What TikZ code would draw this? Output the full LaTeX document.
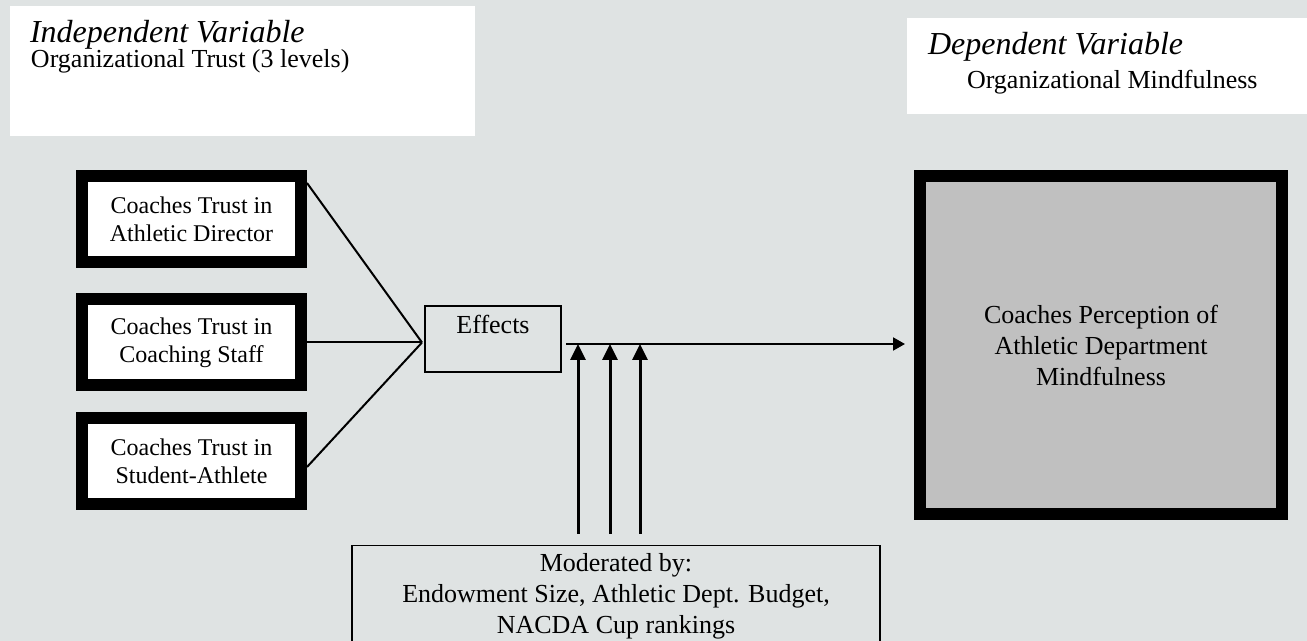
\documentclass[tikz,border=0pt]{standalone}
\usepackage{fontspec}
\setmainfont{Liberation Serif}
\usetikzlibrary{arrows.meta}
\definecolor{bggray}{RGB}{223,227,227}
\definecolor{boxgray}{RGB}{192,192,192}

\begin{document}
\begin{tikzpicture}[x=0.5pt,y=-0.5pt,line width=1pt,
      pfeil/.style={-{Triangle[length=6pt,width=6.5pt]}, shorten >=4.5pt},
      modpfeil/.style={line width=1.5pt, -{Triangle[length=8pt,width=7.5pt]}, shorten <=5.5pt},
      trustbox/.style={draw,line width=6pt,fill=white,minimum width=109.5pt,minimum height=43pt,
        align=center,font=\fontsize{12}{14}\selectfont},
      thinbox/.style={draw,line width=0.75pt,align=center,font=\fontsize{13}{15.5}\selectfont},
      hdrbox/.style={fill=white,inner sep=0pt,anchor=north west},
      hdrtitle/.style={anchor=base west,inner sep=0pt,font=\fontsize{16}{19}\selectfont\itshape},
      hdrtext/.style={anchor=base west,inner sep=0pt,font=\fontsize{13}{15.5}\selectfont}]
    \fill[bggray] (0,0) rectangle (1307,641);
    \useasboundingbox (0,0) rectangle (1307,641);
    % variable headers
    \node[hdrbox,minimum width=232.5pt,minimum height=65pt] (ivbox) at (9,5) {};
    \node[hdrtitle] (ivtitle) at (29,43) {Independent Variable};
    \node[hdrtext] (ivtext) at (30,68) {Organizational Trust (3 levels)};
    \node[hdrbox,minimum width=201pt,minimum height=48pt] (dvbox) at (906,17) {};
    \node[hdrtitle] (dvtitle) at (927,55) {Dependent Variable};
    \node[hdrtext] (dvtext) at (966,89) {Organizational Mindfulness};
    % trust boxes
    \node[trustbox] (box1) at (191.5,219) {Coaches Trust in\\Athletic Director};
    \node[trustbox] (box2) at (191.5,342.5) {Coaches Trust in\\Coaching Staff};
    \node[trustbox] (box3) at (191.5,461.5) {Coaches Trust in\\Student-Athlete};
    \coordinate (meet) at (422,342.5);
    \draw ([yshift=18pt]box1.east) -- (meet);
    \draw (box2.east) -- (meet);
    \draw ([yshift=-2.75pt]box3.east) -- (meet);
    \node[thinbox,minimum width=68pt,text height=12pt,text depth=17pt,inner ysep=2pt] (effects) at (493,339) {Effects};
    % outcome
    \node[draw,line width=6pt,fill=boxgray,minimum width=181pt,minimum height=169pt,
      align=center,font=\fontsize{13}{15.5}\selectfont] (mind) at (1101,345)
      {Coaches Perception of\\Athletic Department\\Mindfulness};
    \coordinate (out) at (566,344);
    \draw[pfeil] (out) -- (out -| mind.west);
    % moderators
    \node[thinbox,anchor=north,minimum width=264pt,inner ysep=4pt] (mod) at (616,545)
      {Moderated by:\\Endowment Size, Athletic Dept. Budget,\\NACDA Cup rankings};
    \foreach \mx [count=\i] in {578,610,640}
      \coordinate (m\i) at (\mx,344);
    \foreach \i in {1,2,3}
      \draw[modpfeil] (m\i |- mod.north) -- (m\i);
  \end{tikzpicture}
\end{document}
